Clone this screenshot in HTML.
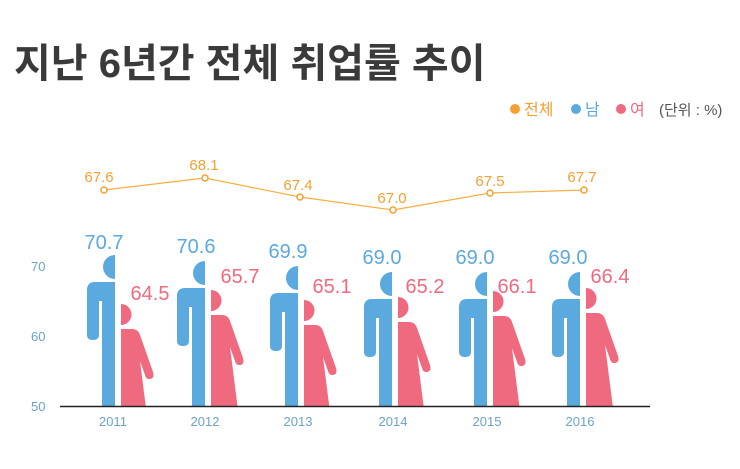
<!DOCTYPE html>
<html><head><meta charset="utf-8"><style>
html,body{margin:0;padding:0;background:#fff;width:740px;height:469px;overflow:hidden;font-family:"Liberation Sans","Noto Sans CJK KR",sans-serif}
svg{display:block}
</style></head><body>
<svg width="740" height="469" xmlns="http://www.w3.org/2000/svg" font-family="Liberation Sans, Noto Sans CJK KR, sans-serif">
<defs>
<g id="m"><path d="M0,0 A12,12 0 0 0 0,24 Z" fill="#5aa9df"/>
<path d="M0,27 L-20,27 Q-28,27 -28,35 L-28,80 Q-28,85 -22,85 Q-16,85 -16,80 L-16,46 L-13,46 L-13,152 L0,152 Z" fill="#5aa9df"/></g>
<g id="f"><path d="M3,0 A10.5,10.5 0 0 1 3,21 Z" fill="#f06a7f"/>
<path d="M3,25 L14,25 Q20,25 22,31 L35,68 Q37,75 31,75 Q28,75 27,71 L22,57 L30,120 L3,120 Z" fill="#f06a7f"/></g>
<clipPath id="c"><rect x="0" y="0" width="740" height="406"/></clipPath>
</defs>
<text x="14" y="77" font-size="40" font-weight="bold" fill="#3a3a3a">지난 6년간 전체 취업률 추이</text>
<circle cx="515" cy="109" r="5" fill="#f5a030"/><text x="524" y="115" font-size="16" fill="#f5a030">전체</text>
<circle cx="576" cy="109" r="5" fill="#5aa9df"/><text x="585" y="115" font-size="16" fill="#5aa9df">남</text>
<circle cx="621" cy="109" r="5" fill="#f06a7f"/><text x="630" y="115" font-size="16" fill="#f06a7f">여</text>
<text x="659" y="115" font-size="15" fill="#555">(단위 : %)</text>
<g font-size="13" fill="#6aa4c8"><text x="31" y="271">70</text><text x="31" y="341">60</text><text x="31" y="411">50</text></g>
<g clip-path="url(#c)">
<use href="#m" x="115" y="255"/><use href="#f" x="118" y="304"/>
<use href="#m" x="205" y="261"/><use href="#f" x="208" y="290"/>
<use href="#m" x="298" y="266"/><use href="#f" x="301" y="300"/>
<use href="#m" x="392" y="272"/><use href="#f" x="395" y="297"/>
<use href="#m" x="487" y="272"/><use href="#f" x="490" y="291"/>
<use href="#m" x="580" y="272"/><use href="#f" x="583" y="288"/>
</g>
<line x1="60" y1="406.5" x2="650" y2="406.5" stroke="#222" stroke-width="1.5"/>
<g font-size="20" fill="#5aa9df" text-anchor="middle">
<text x="104" y="249">70.7</text><text x="196" y="253">70.6</text><text x="288" y="258">69.9</text><text x="382" y="264">69.0</text><text x="475" y="264">69.0</text><text x="568" y="264">69.0</text></g>
<g font-size="20" fill="#f06a7f" text-anchor="middle">
<text x="150" y="300">64.5</text><text x="240" y="283">65.7</text><text x="332" y="293">65.1</text><text x="425" y="293">65.2</text><text x="517" y="293">66.1</text><text x="610" y="283">66.4</text></g>
<polyline points="104,190 205,178 300,197 393,210 490,193 584,190" fill="none" stroke="#f5b040" stroke-width="1.2"/>
<g fill="#fff" stroke="#f5a030" stroke-width="1.5">
<circle cx="104" cy="190" r="3"/><circle cx="205" cy="178" r="3"/><circle cx="300" cy="197" r="3"/><circle cx="393" cy="210" r="3"/><circle cx="490" cy="193" r="3"/><circle cx="584" cy="190" r="3"/></g>
<g font-size="15" fill="#f5a030" text-anchor="middle">
<text x="99" y="182">67.6</text><text x="204" y="170">68.1</text><text x="298" y="190">67.4</text><text x="392" y="203">67.0</text><text x="490" y="186">67.5</text><text x="582" y="182">67.7</text></g>
<g font-size="13" fill="#6aa4c8" text-anchor="middle">
<text x="113" y="426">2011</text><text x="205" y="426">2012</text><text x="298" y="426">2013</text><text x="393" y="426">2014</text><text x="487" y="426">2015</text><text x="580" y="426">2016</text></g>
</svg>
</body></html>
